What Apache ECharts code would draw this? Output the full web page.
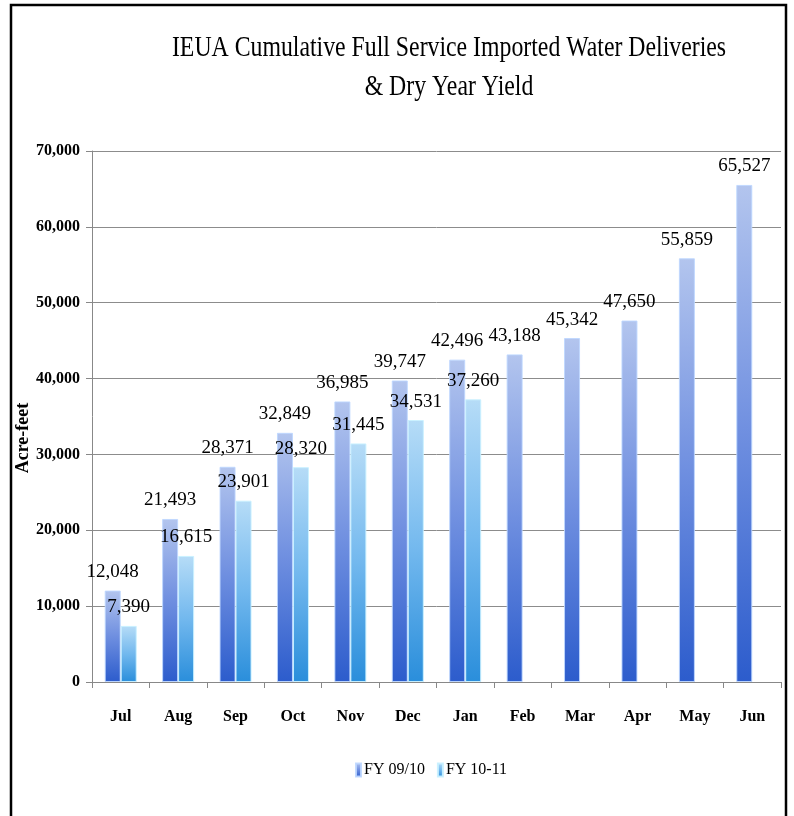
<!DOCTYPE html>
<html>
<head>
<meta charset="utf-8">
<script src="https://cdn.jsdelivr.net/npm/echarts@6/dist/echarts.min.js"></script>
<style>
html,body{margin:0;padding:0;background:#fff;}
#c{width:794px;height:816px;}
</style>
</head>
<body>
<div id="c"></div>
<script>
var months = ['Jul','Aug','Sep','Oct','Nov','Dec','Jan','Feb','Mar','Apr','May','Jun'];
var fy0910 = [12048,21493,28371,32849,36985,39747,42496,43188,45342,47650,55859,65527];
var fy1011 = [7390,16615,23901,28320,31445,34531,37260,null,null,null,null,null];
var yTicks = [0,10000,20000,30000,40000,50000,60000,70000];
var seriesNames = ['FY 09/10','FY 10-11'];
var titleText = 'IEUA Cumulative Full Service Imported Water Deliveries\n& Dry Year Yield';
var yName = 'Acre-feet';

var serif = '"Liberation Serif", "DejaVu Serif", serif';
var chart = echarts.init(document.getElementById('c'));

function grad(top, mid, bottom){
  return new echarts.graphic.LinearGradient(0,0,0,1,[
    {offset:0,color:top},{offset:0.5,color:mid},{offset:1,color:bottom}
  ]);
}
function fmt(v){ return v.toLocaleString('en-US'); }

var labelCfg = {
  show:true, position:'top', distance:9,
  fontFamily:serif, fontSize:19, color:'#000',
  formatter:function(p){ return p.value==null?'':fmt(p.value); }
};

chart.setOption({
  animation:false,
  backgroundColor:'#fff',
  legend:{
    data:seriesNames, left:350, top:757, icon:'rect', itemWidth:5, itemHeight:13, itemGap:12,
    textStyle:{fontFamily:serif, fontSize:16, color:'#000', padding:[0,0,0,-2]}
  },
  grid:{left:92, right:13, top:151, bottom:134, containLabel:false},
  xAxis:{
    type:'category', data:months,
    axisLine:{lineStyle:{color:'#888'}},
    axisTick:{show:true, length:6, lineStyle:{color:'#888'}},
    axisLabel:{fontFamily:serif, fontSize:16, fontWeight:'bold', color:'#000', margin:27}
  },
  yAxis:{
    type:'value', min:yTicks[0], max:yTicks[yTicks.length-1], interval:10000,
    axisLine:{show:true, lineStyle:{color:'#888'}},
    axisTick:{show:true, length:6, lineStyle:{color:'#888'}},
    splitLine:{lineStyle:{color:'#8c8c8c'}},
    axisLabel:{fontFamily:serif, fontSize:16, fontWeight:'bold', color:'#000', margin:12,
      formatter:function(v){return fmt(v);}}
  },
  series:[
    {name:seriesNames[0], type:'bar', data:fy0910, barWidth:16, barGap:'0%',
     itemStyle:{color:grad('#b3c5ee','#6f8fe0','#2c5ccc'), borderColor:'rgba(190,215,255,0.9)', borderWidth:1},
     label:labelCfg},
    {name:seriesNames[1], type:'bar', data:fy1011, barWidth:16,
     itemStyle:{color:grad('#b6dcf7','#72b8ee','#2a8edb'), borderColor:'rgba(200,240,255,0.95)', borderWidth:1},
     label:labelCfg}
  ],
  graphic:[
    {type:'rect', shape:{x:11, y:5, width:775, height:840}, style:{fill:'none', stroke:'#000', lineWidth:2.5}, silent:true},
    {type:'text', x:449, y:68, scaleX:0.82, silent:true,
     style:{text:titleText, font:'29px '+serif, fill:'#000', textAlign:'center', textVerticalAlign:'middle', lineHeight:39}},
    {type:'text', x:23, y:438, rotation:Math.PI/2, silent:true,
     style:{text:yName, font:'bold 18px '+serif, fill:'#000', textAlign:'center', textVerticalAlign:'middle'}}
  ]
});
</script>
</body>
</html>
